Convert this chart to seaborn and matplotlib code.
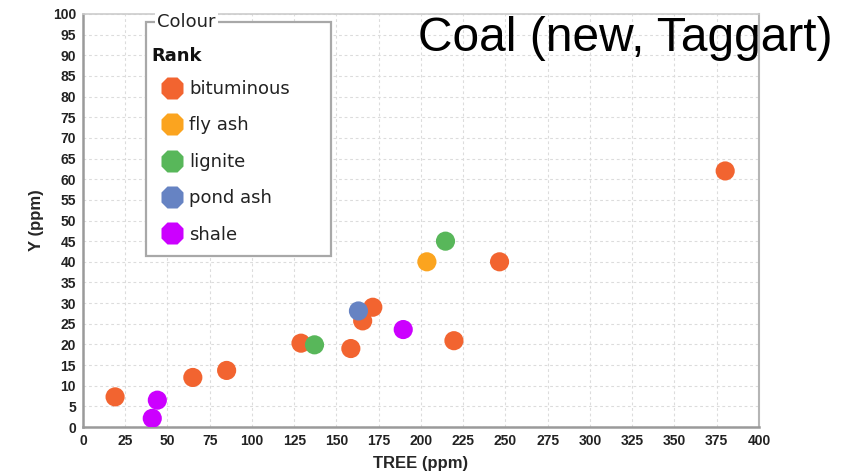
import matplotlib
matplotlib.use("Agg")
import matplotlib.pyplot as plt
from matplotlib.lines import Line2D
from matplotlib.patches import Rectangle
import seaborn as sns
import pandas as pd

# TREE (ppm) and Y (ppm) by coal rank
ranks = ["bituminous", "fly ash", "lignite", "pond ash", "shale"]
rank_colors = ["#F26430", "#FBA41F", "#58B75A", "#6683C3", "#CC00FF"]

bituminous_tree = [19, 65, 85, 129, 158.5, 165.5, 171.5, 219.5, 246.5, 380]
bituminous_y = [7.3, 12.0, 13.7, 20.3, 19.0, 25.7, 29.0, 20.9, 40.0, 62.0]
flyash_tree = [203.5]
flyash_y = [40.0]
lignite_tree = [137, 214.5]
lignite_y = [19.9, 45.0]
pondash_tree = [163]
pondash_y = [28.1]
shale_tree = [41, 44, 189.5]
shale_y = [2.1, 6.5, 23.6]

x_ticks = list(range(0, 401, 25))
y_ticks = list(range(0, 101, 5))

frames = []
for name, xs, ys in [
    ("bituminous", bituminous_tree, bituminous_y),
    ("fly ash", flyash_tree, flyash_y),
    ("lignite", lignite_tree, lignite_y),
    ("pond ash", pondash_tree, pondash_y),
    ("shale", shale_tree, shale_y),
]:
    frames.append(pd.DataFrame({"TREE": xs, "Y": ys, "Rank": name}))
df = pd.concat(frames, ignore_index=True)

sns.set_style("white")
plt.rcParams["font.family"] = ["DejaVu Sans"]

W, H = 858, 476
fig = plt.figure(figsize=(W / 100, H / 100), dpi=100)
ax = fig.add_axes([0.0967, 0.1029, 0.7879, 0.8677])

ax.grid(True, color="#dcdcdc", linestyle=(0, (2.5, 2.5)), linewidth=0.8)
ax.set_axisbelow(True)

palette = dict(zip(ranks, rank_colors))
sns.scatterplot(data=df, x="TREE", y="Y", hue="Rank", palette=palette,
                s=190, edgecolor="none", linewidth=0, legend=False, ax=ax,
                zorder=3)

ax.set_xlim(0, 400)
ax.set_ylim(0, 100)
ax.set_xticks(x_ticks)
ax.set_yticks(y_ticks)

tick_font = {"family": ["Liberation Sans Narrow", "Liberation Sans"],
             "weight": "bold", "size": 10}
ax.set_xticklabels([str(v) for v in x_ticks], fontdict=tick_font, color="#222222")
ax.set_yticklabels([str(v) for v in y_ticks], fontdict=tick_font, color="#222222")
ax.tick_params(axis="both", direction="out", length=3, width=1,
               color="#999999", pad=2)

label_font = {"family": ["Liberation Sans Narrow", "Liberation Sans"],
              "weight": "bold", "size": 12}
ax.set_xlabel("TREE (ppm)", fontdict=label_font, labelpad=6)
ax.set_ylabel("Y (ppm)", fontdict=label_font, labelpad=6)

for side in ["left", "bottom"]:
    ax.spines[side].set_color("#9a9a9a")
    ax.spines[side].set_linewidth(1.8)
ax.spines["top"].set_color("#cccccc")
ax.spines["top"].set_linewidth(1.2)
ax.spines["right"].set_color("#b5b5b5")
ax.spines["right"].set_linewidth(1.5)

# legend group box (pixel geometry of the figure)
def fx(px):
    return px / W

def fy(py):
    return 1 - py / H

box = Rectangle((fx(146), fy(256)), fx(331) - fx(146), fy(22) - fy(256),
                transform=fig.transFigure, facecolor="white",
                edgecolor="#a8a8a8", linewidth=1.6, zorder=5)
fig.add_artist(box)

fig.text(fx(157), fy(22), "Colour", ha="left", va="center", fontsize=13,
         family="DejaVu Sans", color="#222222", zorder=7,
         bbox=dict(facecolor="white", edgecolor="none", pad=1.5))
fig.text(fx(151), fy(56), "Rank", ha="left", va="center", fontsize=13,
         weight="bold", family="DejaVu Sans", color="#111111", zorder=7)

handles = [Line2D([0], [0], marker="8", linestyle="none", markersize=17,
                  markerfacecolor=c, markeredgecolor="none", label=r)
           for r, c in zip(ranks, rank_colors)]
leg = fig.legend(handles=handles, loc="upper left",
                 bbox_to_anchor=(fx(160), fy(80)),
                 bbox_transform=fig.transFigure, frameon=False,
                 prop={"family": "DejaVu Sans", "size": 13},
                 labelspacing=1.02, handletextpad=0.3, handlelength=1.3,
                 borderpad=0, borderaxespad=0)
leg.set_zorder(8)
for t in leg.get_texts():
    t.set_color("#222222")

fig.text(0.487, 0.893, "Coal (new, Taggart)", ha="left", va="baseline",
         fontsize=34.5, family="Liberation Sans", color="black", zorder=9)

fig.savefig("out.png", dpi=100)
